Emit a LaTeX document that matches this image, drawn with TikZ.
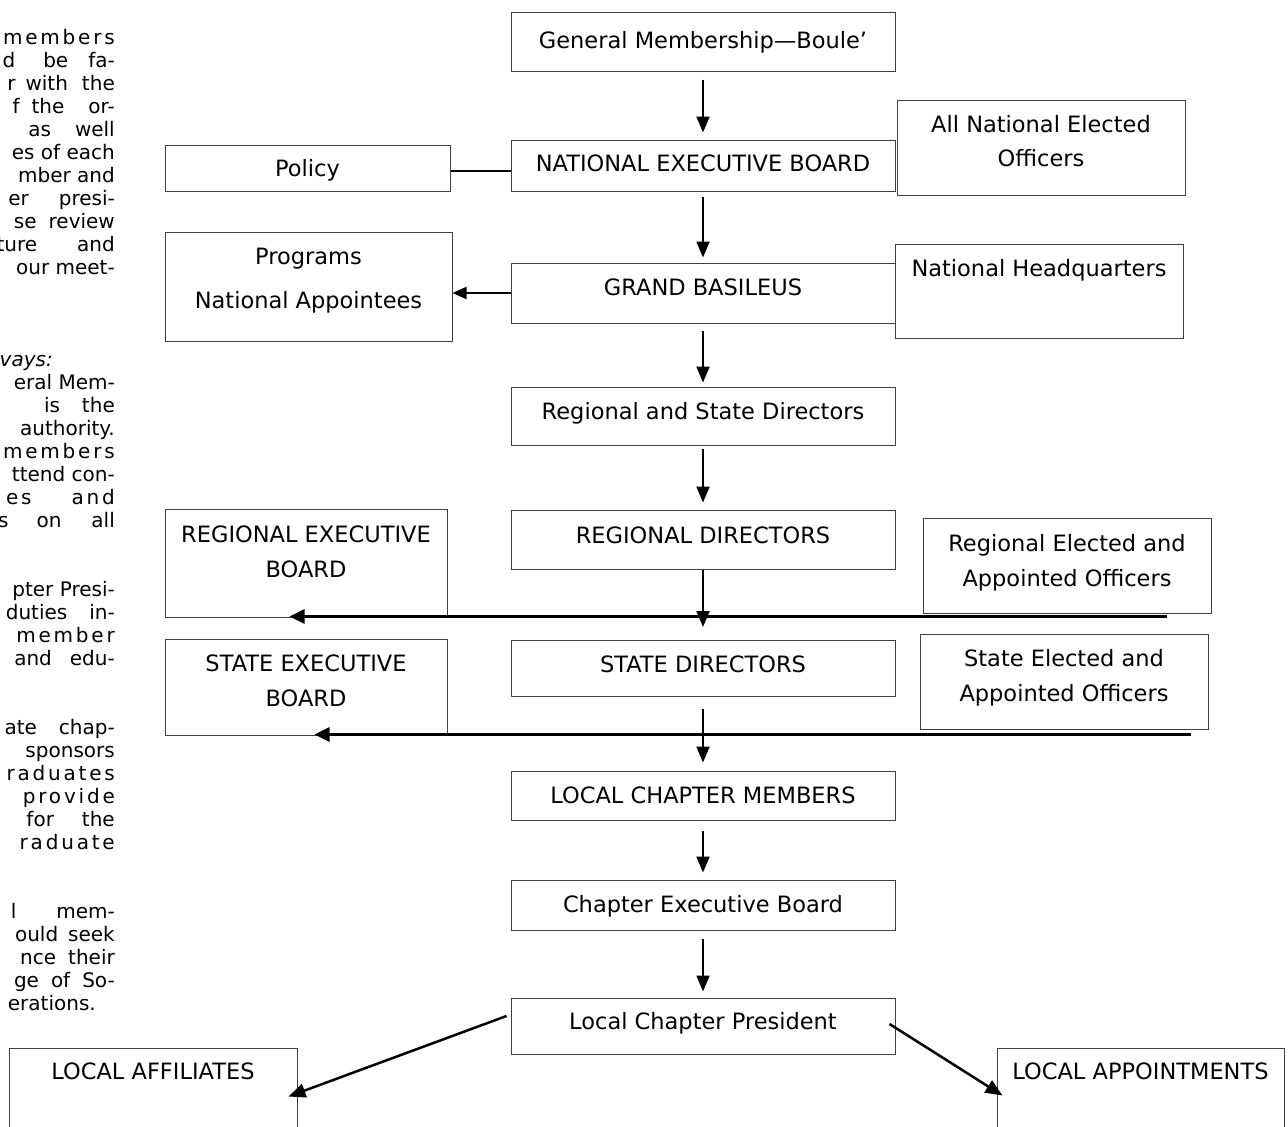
\documentclass[tikz,border=0pt]{standalone}
\usepackage{fontspec}
\setmainfont{DejaVu Sans}
\newfontfamily\lsfont[LetterSpace=14]{DejaVu Sans}
\usetikzlibrary{arrows.meta,calc}
\begin{document}
\begin{tikzpicture}[x=1pt,y=-1pt,
  box/.style={draw=black!75, line width=1pt, rectangle, inner sep=0pt},
  txt/.style={font=\fontsize{22.5}{27}\selectfont, inner sep=0pt, anchor=base, text=black},
  lt/.style={font=\fontsize{20}{23}\selectfont, inner sep=0pt, anchor=base east, text=black},
  arr/.style={line width=2pt, -{Triangle[length=16pt,width=13pt]}},
  harr/.style={line width=3pt, -{Triangle[length=15pt,width=14pt]}},
  darr/.style={line width=2.5pt, -{Triangle[length=17pt,width=14pt]}}]
\useasboundingbox (0,0) rectangle (1288,1127);
\clip (0,0) rectangle (1288,1127);

% ---------- boxes ----------
\node[box, minimum width=384pt, minimum height=59pt] (gm) at (703,41.5) {};
\node[box, minimum width=384pt, minimum height=51pt] (neb) at (703,165.5) {};
\node[box, minimum width=288pt, minimum height=95pt] (aneo) at (1041,147.5) {};
\node[box, minimum width=285pt, minimum height=46pt] (policy) at (307.5,168) {};
\node[box, minimum width=287pt, minimum height=109pt] (prog) at (308.5,286.5) {};
\node[box, minimum width=384pt, minimum height=60pt] (gb) at (703,293) {};
\node[box, minimum width=288pt, minimum height=94pt] (nhq) at (1039,291) {};
\node[box, minimum width=384pt, minimum height=58pt] (rsd) at (703,416) {};
\node[box, minimum width=384pt, minimum height=59pt] (rd) at (703,539.5) {};
\node[box, minimum width=282pt, minimum height=108pt] (reb) at (306,563) {};
\node[box, minimum width=288pt, minimum height=95pt] (reo) at (1067,565.5) {};
\node[box, minimum width=282pt, minimum height=96pt] (seb) at (306,687) {};
\node[box, minimum width=384pt, minimum height=56pt] (sd) at (703,668) {};
\node[box, minimum width=288pt, minimum height=95pt] (seo) at (1064,681.5) {};
\node[box, minimum width=384pt, minimum height=49pt] (lcm) at (703,795.5) {};
\node[box, minimum width=384pt, minimum height=50pt] (ceb) at (703,905) {};
\node[box, minimum width=384pt, minimum height=56pt] (lcp) at (703,1026) {};
\node[box, minimum width=288pt, minimum height=100pt] (la) at (153,1098) {};
\node[box, minimum width=287pt, minimum height=100pt] (lap) at (1140.5,1098) {};

% ---------- box texts ----------
\node[txt] (gm-t) at (703,48) {General Membership—Boule’};
\node[txt] (neb-t) at (703,171) {NATIONAL EXECUTIVE BOARD};
\node[txt] (aneo-t1) at (1041,132) {All National Elected};
\node[txt] (aneo-t2) at (1041,166) {Officers};
\node[txt] (policy-t) at (307.5,176) {Policy};
\node[txt] (prog-t1) at (308.5,264) {Programs};
\node[txt] (prog-t2) at (308.5,308) {National Appointees};
\node[txt] (gb-t) at (703,295) {GRAND BASILEUS};
\node[txt] (nhq-t) at (1039,276) {National Headquarters};
\node[txt] (rsd-t) at (703,419) {Regional and State Directors};
\node[txt] (rd-t) at (703,543) {REGIONAL DIRECTORS};
\node[txt] (reb-t1) at (306,542) {REGIONAL EXECUTIVE};
\node[txt] (reb-t2) at (306,577) {BOARD};
\node[txt] (reo-t1) at (1067,551) {Regional Elected and};
\node[txt] (reo-t2) at (1067,586) {Appointed Officers};
\node[txt] (seb-t1) at (306,671) {STATE EXECUTIVE};
\node[txt] (seb-t2) at (306,706) {BOARD};
\node[txt] (sd-t) at (703,672) {STATE DIRECTORS};
\node[txt] (seo-t1) at (1064,666) {State Elected and};
\node[txt] (seo-t2) at (1064,701) {Appointed Officers};
\node[txt] (lcm-t) at (703,803) {LOCAL CHAPTER MEMBERS};
\node[txt] (ceb-t) at (703,912) {Chapter Executive Board};
\node[txt] (lcp-t) at (703,1029) {Local Chapter President};
\node[txt] (la-t) at (153,1079) {LOCAL AFFILIATES};
\node[txt] (lap-t) at (1140.5,1079) {LOCAL APPOINTMENTS};

% ---------- connectors ----------
\draw[arr, shorten <=8pt, shorten >=7pt] (gm) -- (neb);
\draw[arr, shorten <=5pt, shorten >=5pt] (neb) -- (gb);
\draw[arr, shorten <=7pt, shorten >=4pt] (gb) -- (rsd);
\draw[arr, shorten <=3pt, shorten >=7pt] (rsd) -- (rd);
\coordinate (rdtip) at (703,627);
\draw[arr] (rd.south) -- (rdtip);
\draw[arr, shorten <=12pt, shorten >=8pt] (sd) -- (lcm);
\draw[arr, shorten <=10pt, shorten >=7pt] (lcm) -- (ceb);
\draw[arr, shorten <=8pt, shorten >=6pt] (ceb) -- (lcp);

\draw[line width=1.2pt] (policy.east) ++(0,3) coordinate (pl) -- (pl -| neb.west);
\draw[line width=2pt, -{Triangle[length=14pt,width=12pt]}] (gb.west) -- (gb.west -| prog.east);

\draw[harr] ($(reo.south east)+(-45,3)$) -- ($(reb.south west)+(125,-1)$);
\draw[harr] ($(seo.south east)+(-18,5)$) -- ($(seb.south west)+(150,-1)$);

\draw[darr] ($(lcp.west)+(-4,-10)$) -- ($(la.north east)+(-9,49)$);
\draw[darr] ($(lcp.east)+(-6,-2)$) -- ($(lap.north west)+(6,48)$);

% ---------- clipped text column ----------
\node[lt] (c0) at (115,44) {\lsfont members};
\node[lt] (c1) at (115,67) {d\hspace{28pt}be\hspace{20pt}fa-};
\node[lt] (c2) at (115,90) {r\hspace{10pt}with\hspace{14pt}the};
\node[lt] (c3) at (115,113) {f\hspace{12pt}the\hspace{24pt}or-};
\node[lt] (c4) at (115,136) {as\hspace{24pt}well};
\node[lt] (c5) at (115,159) {es of each};
\node[lt] (c6) at (115,182) {mber and};
\node[lt] (c7) at (115,205) {er\hspace{30pt}presi-};
\node[lt] (c8) at (115,228) {se\hspace{12pt}review};
\node[lt] (c9) at (115,251) {ture\hspace{40pt}and};
\node[lt] (c10) at (115,274) {our meet-};
\node[lt] (c14) at (53,366) {\itshape vays:};
\node[lt] (c15) at (115,389) {eral Mem-};
\node[lt] (c16) at (115,412) {is\hspace{22pt}the};
\node[lt] (c17) at (115,435) {authority.};
\node[lt] (c18) at (115,458) {\lsfont members};
\node[lt] (c19) at (115,481) {ttend con-};
\node[lt] (c20) at (115,504) {{\lsfont es}\hspace{40pt}{\lsfont and}};
\node[lt] (c21) at (115,527) {s\hspace{28pt}on\hspace{30pt}all};
\node[lt] (c24) at (115,596) {pter Presi-};
\node[lt] (c25) at (115,619) {duties\hspace{22pt}in-};
\node[lt] (c26) at (115,642) {\lsfont member};
\node[lt] (c27) at (115,665) {and\hspace{18pt}edu-};
\node[lt] (c30) at (115,734) {ate\hspace{22pt}chap-};
\node[lt] (c31) at (115,757) {sponsors};
\node[lt] (c32) at (115,780) {\lsfont raduates};
\node[lt] (c33) at (115,803) {\lsfont provide};
\node[lt] (c34) at (115,826) {for\hspace{28pt}the};
\node[lt] (c35) at (115,849) {\lsfont raduate};
\node[lt] (c38) at (115,918) {l\hspace{40pt}mem-};
\node[lt] (c39) at (115,941) {ould\hspace{10pt}seek};
\node[lt] (c40) at (115,964) {nce\hspace{12pt}their};
\node[lt] (c41) at (115,987) {ge\hspace{12pt}of\hspace{12pt}So-};
\node[lt] (c42) at (96,1010) {erations.};
\end{tikzpicture}
\end{document}
